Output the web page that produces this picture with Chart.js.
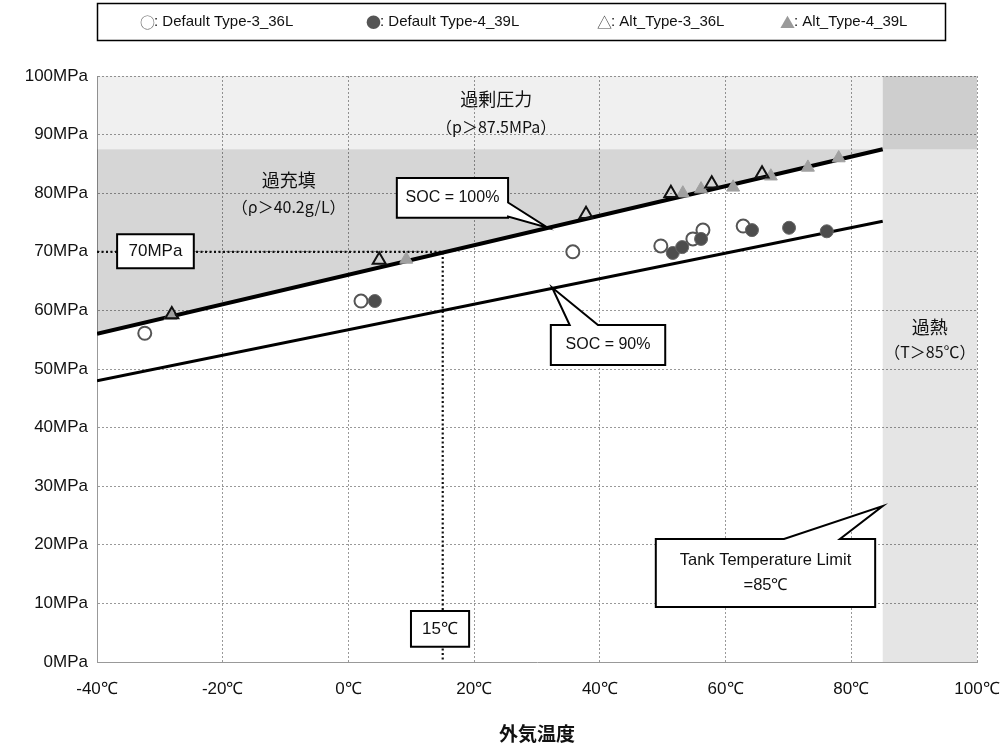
<!DOCTYPE html>
<html><head><meta charset="utf-8">
<script src="https://cdn.jsdelivr.net/npm/chart.js@4.4.0/dist/chart.umd.min.js"></script>
<style>html,body{margin:0;padding:0;background:#fff;}#wrap{width:1001px;height:745px;position:relative;}</style>
</head><body><div id="wrap"><canvas id="c"></canvas></div>
<script>
// ---- data ----
const xTickValues = [-40, -20, 0, 20, 40, 60, 80, 100];
const yTickValues = [0, 10, 20, 30, 40, 50, 60, 70, 80, 90, 100];
const seriesLabels = ['Default Type-3_36L', 'Default Type-4_39L', 'Alt_Type-3_36L', 'Alt_Type-4_39L'];
const legendGlyphs = ['○', '●', '△', '▲'];

const defT3Temp = [-32.4, 2.0, 35.7, 49.7, 54.8, 56.4, 62.8];
const defT3Pres = [56.1, 61.6, 70.0, 71.0, 72.2, 73.7, 74.4];
const defT4Temp = [4.2, 51.6, 53.1, 56.1, 64.2, 70.1, 76.1];
const defT4Pres = [61.6, 69.8, 70.8, 72.2, 73.7, 74.1, 73.5];
const altT3Temp = [-28.1, 4.9, 37.8, 51.3, 57.8, 65.8];
const altT3Pres = [59.3, 68.6, 76.4, 80.0, 81.6, 83.3];
const altT4Temp = [-28.3, 9.2, 53.2, 56.1, 61.2, 67.2, 73.1, 78.0];
const altT4Pres = [59.1, 68.7, 80.0, 80.7, 81.0, 82.9, 84.4, 86.0];

const soc100Temp = [-40, 85];
const soc100Pres = [56.0, 87.5];
const soc90Temp = [-40, 85];
const soc90Pres = [48.0, 75.2];
const refTemp = [-40, 15, 15];
const refPres = [70, 70, 0];

const overPressureLimit = 87.5;
const tankTempLimit = 85;

// ---- helpers ----
const zip = (xs, ys) => xs.map((x, i) => ({x: x, y: ys[i]}));

const scatterDs = (label, xs, ys, style) => Object.assign({
  type: 'scatter', label: label, data: zip(xs, ys), showLine: false
}, style);

const datasets = [
  scatterDs(seriesLabels[0], defT3Temp, defT3Pres, {pointStyle: 'circle', pointRadius: 6.5, backgroundColor: '#ffffff', borderColor: '#555', pointBorderWidth: 2, order: 4}),
  scatterDs(seriesLabels[1], defT4Temp, defT4Pres, {pointStyle: 'circle', pointRadius: 6.5, backgroundColor: '#4d4d4d', borderColor: '#666', pointBorderWidth: 1, order: 3}),
  scatterDs(seriesLabels[2], altT3Temp, altT3Pres, {pointStyle: 'triangle', pointRadius: 7.5, backgroundColor: 'rgba(0,0,0,0)', borderColor: '#111', pointBorderWidth: 2, order: 1}),
  scatterDs(seriesLabels[3], altT4Temp, altT4Pres, {pointStyle: 'triangle', pointRadius: 7.5, backgroundColor: '#a0a0a0', borderColor: '#a0a0a0', pointBorderWidth: 1, order: 2}),
  {type: 'line', label: 'SOC = 100%', data: zip(soc100Temp, soc100Pres), borderColor: '#000', borderWidth: 4, pointRadius: 0,
   fill: {value: overPressureLimit}, backgroundColor: 'rgba(0,0,0,0.16)', order: 10},
  {type: 'line', label: 'SOC = 90%', data: zip(soc90Temp, soc90Pres), borderColor: '#000', borderWidth: 3, pointRadius: 0, fill: false, order: 11},
  {type: 'line', label: 'ref', data: zip(refTemp, refPres), borderColor: '#111', borderWidth: 2.2, borderDash: [2, 2.5], pointRadius: 0, fill: false, order: 12}
];

// zones and annotations (data units)
const zones = [
  {x0: -40, x1: tankTempLimit, y0: overPressureLimit, y1: 100, color: 'rgba(0,0,0,0.06)'},
  {x0: tankTempLimit, x1: 100, y0: 0, y1: 100, color: 'rgba(0,0,0,0.10)'},
  {x0: tankTempLimit, x1: 100, y0: overPressureLimit, y1: 100, color: 'rgba(0,0,0,0.10)'}
];
const zoneTexts = [
  {x: 23.5, y: 96.0, text: '過剰圧力', size: 18},
  {x: 23.5, y: 91.3, text: '（p＞87.5MPa）', size: 16},
  {x: -9.5, y: 82.2, text: '過充填', size: 18},
  {x: -9.5, y: 77.6, text: '（ρ＞40.2g/L）', size: 16},
  {x: 92.5, y: 57.2, text: '過熱', size: 18},
  {x: 92.5, y: 52.9, text: '（T＞85℃）', size: 16}
];
const callouts = [
  {lines: ['70MPa'], box: [-36.8, 73.0, -24.6, 67.2], size: 17},
  {lines: ['15℃'], box: [9.95, 8.7, 19.2, 2.6], size: 17},
  {lines: ['SOC = 100%'], box: [7.7, 82.6, 25.4, 75.8], size: 16, tail: {side: 'right', a: 78.4, b: 76.0, tip: [31.7, 74.1]}},
  {lines: ['SOC = 90%'], box: [32.2, 57.5, 50.4, 50.7], size: 16, tail: {side: 'top', a: 35.2, b: 39.7, tip: [32.4, 63.9]}},
  {lines: ['Tank Temperature Limit', '=85℃'], box: [48.9, 21.0, 83.8, 9.4], size: 16.5, tail: {side: 'top', a: 69.3, b: 78.2, tip: [85, 26.6]}}
];

const zonePlugin = {
  id: 'zones',
  beforeDatasetsDraw(chart) {
    const {ctx, scales: {x, y}} = chart;
    ctx.save();
    zones.forEach(z => {
      const px0 = x.getPixelForValue(z.x0), px1 = x.getPixelForValue(z.x1);
      const py0 = y.getPixelForValue(z.y1), py1 = y.getPixelForValue(z.y0);
      ctx.fillStyle = z.color;
      ctx.fillRect(px0, py0, px1 - px0, py1 - py0);
    });
    ctx.restore();
  }
};

const annotPlugin = {
  id: 'annots',
  afterDatasetsDraw(chart) {
    const {ctx, scales: {x, y}} = chart;
    const X = v => x.getPixelForValue(v), Y = v => y.getPixelForValue(v);
    ctx.save();
    ctx.textAlign = 'center';
    ctx.textBaseline = 'middle';
    ctx.fillStyle = '#111';
    zoneTexts.forEach(t => {
      ctx.font = t.size + 'px "Noto Sans CJK JP", sans-serif';
      ctx.fillText(t.text, X(t.x), Y(t.y));
    });
    callouts.forEach(c => {
      const x0 = X(c.box[0]), y0 = Y(c.box[1]), x1 = X(c.box[2]), y1 = Y(c.box[3]);
      ctx.beginPath();
      ctx.moveTo(x0, y0);
      if (c.tail && c.tail.side === 'top') {
        ctx.lineTo(X(c.tail.a), y0);
        ctx.lineTo(X(c.tail.tip[0]), Y(c.tail.tip[1]));
        ctx.lineTo(X(c.tail.b), y0);
      }
      ctx.lineTo(x1, y0);
      if (c.tail && c.tail.side === 'right') {
        ctx.lineTo(x1, Y(c.tail.a));
        ctx.lineTo(X(c.tail.tip[0]), Y(c.tail.tip[1]));
        ctx.lineTo(x1, Y(c.tail.b));
      }
      ctx.lineTo(x1, y1);
      ctx.lineTo(x0, y1);
      ctx.closePath();
      ctx.fillStyle = '#fff';
      ctx.fill();
      ctx.lineWidth = 2;
      ctx.lineJoin = 'miter';
      ctx.strokeStyle = '#000';
      ctx.stroke();
      ctx.fillStyle = '#111';
      ctx.font = c.size + 'px "Liberation Sans", Arial, sans-serif';
      const cx = (x0 + x1) / 2, cy = (y0 + y1) / 2, lh = c.size * 1.5;
      c.lines.forEach((ln, i) => {
        ctx.fillText(ln, cx, cy + (i - (c.lines.length - 1) / 2) * lh);
      });
    });
    ctx.restore();
  }
};

const legendPlugin = {
  id: 'boxLegend',
  afterDraw(chart) {
    const ctx = chart.ctx;
    const starts = [140, 366, 597, 780];
    const glyphColors = ['#666', '#555', '#444', '#9a9a9a'];
    ctx.save();
    ctx.lineWidth = 1.5;
    ctx.strokeStyle = '#000';
    ctx.strokeRect(97.5, 3.5, 848, 37);
    ctx.textBaseline = 'middle';
    ctx.textAlign = 'left';
    seriesLabels.forEach((lab, i) => {
      ctx.font = '15px "Noto Sans CJK JP", sans-serif';
      ctx.fillStyle = glyphColors[i];
      ctx.fillText(legendGlyphs[i], starts[i], 22);
      const gw = ctx.measureText(legendGlyphs[i]).width;
      ctx.fillStyle = '#111';
      ctx.font = '15px "Liberation Sans", Arial, sans-serif';
      ctx.fillText(': ' + lab, starts[i] + gw - 1, 22);
    });
    ctx.restore();
  }
};

new Chart(document.getElementById('c'), {
  type: 'scatter',
  data: {datasets: datasets},
  options: {
    responsive: true,
    maintainAspectRatio: false,
    animation: false,
    devicePixelRatio: 1,
    layout: {padding: {top: 76, right: 24, left: 0, bottom: 0}},
    plugins: {legend: {display: false}, tooltip: {enabled: false}, title: {display: false}},
    scales: {
      x: {
        type: 'linear', min: -40, max: 100,
        afterBuildTicks: s => { s.ticks = xTickValues.map(v => ({value: v})); },
        afterFit: s => { s.height = 83; s.paddingLeft = 0; s.paddingRight = 0; },
        ticks: {callback: v => v + '℃', padding: 17, color: '#111', font: {size: 17, family: '"Liberation Sans", Arial, sans-serif'}, maxRotation: 0, autoSkip: false},
        grid: {color: '#999', lineWidth: 1, drawTicks: false},
        border: {display: true, color: '#999', width: 1, dash: [2, 2]},
        title: {display: true, text: '外気温度', color: '#111', font: {size: 19, weight: 'bold', family: '"Noto Sans CJK JP", sans-serif'}, padding: {top: 0, bottom: 0}}
      },
      y: {
        type: 'linear', min: 0, max: 100,
        afterBuildTicks: s => { s.ticks = yTickValues.map(v => ({value: v})); },
        afterFit: s => { s.width = 97; s.paddingTop = 0; s.paddingBottom = 0; },
        ticks: {callback: v => v + 'MPa', padding: 9, color: '#111', font: {size: 17, family: '"Liberation Sans", Arial, sans-serif'}, autoSkip: false},
        grid: {color: '#999', lineWidth: 1, drawTicks: false},
        border: {display: true, color: '#999', width: 1, dash: [2, 2]}
      }
    }
  },
  plugins: [zonePlugin, annotPlugin, legendPlugin]
});
</script></body></html>
